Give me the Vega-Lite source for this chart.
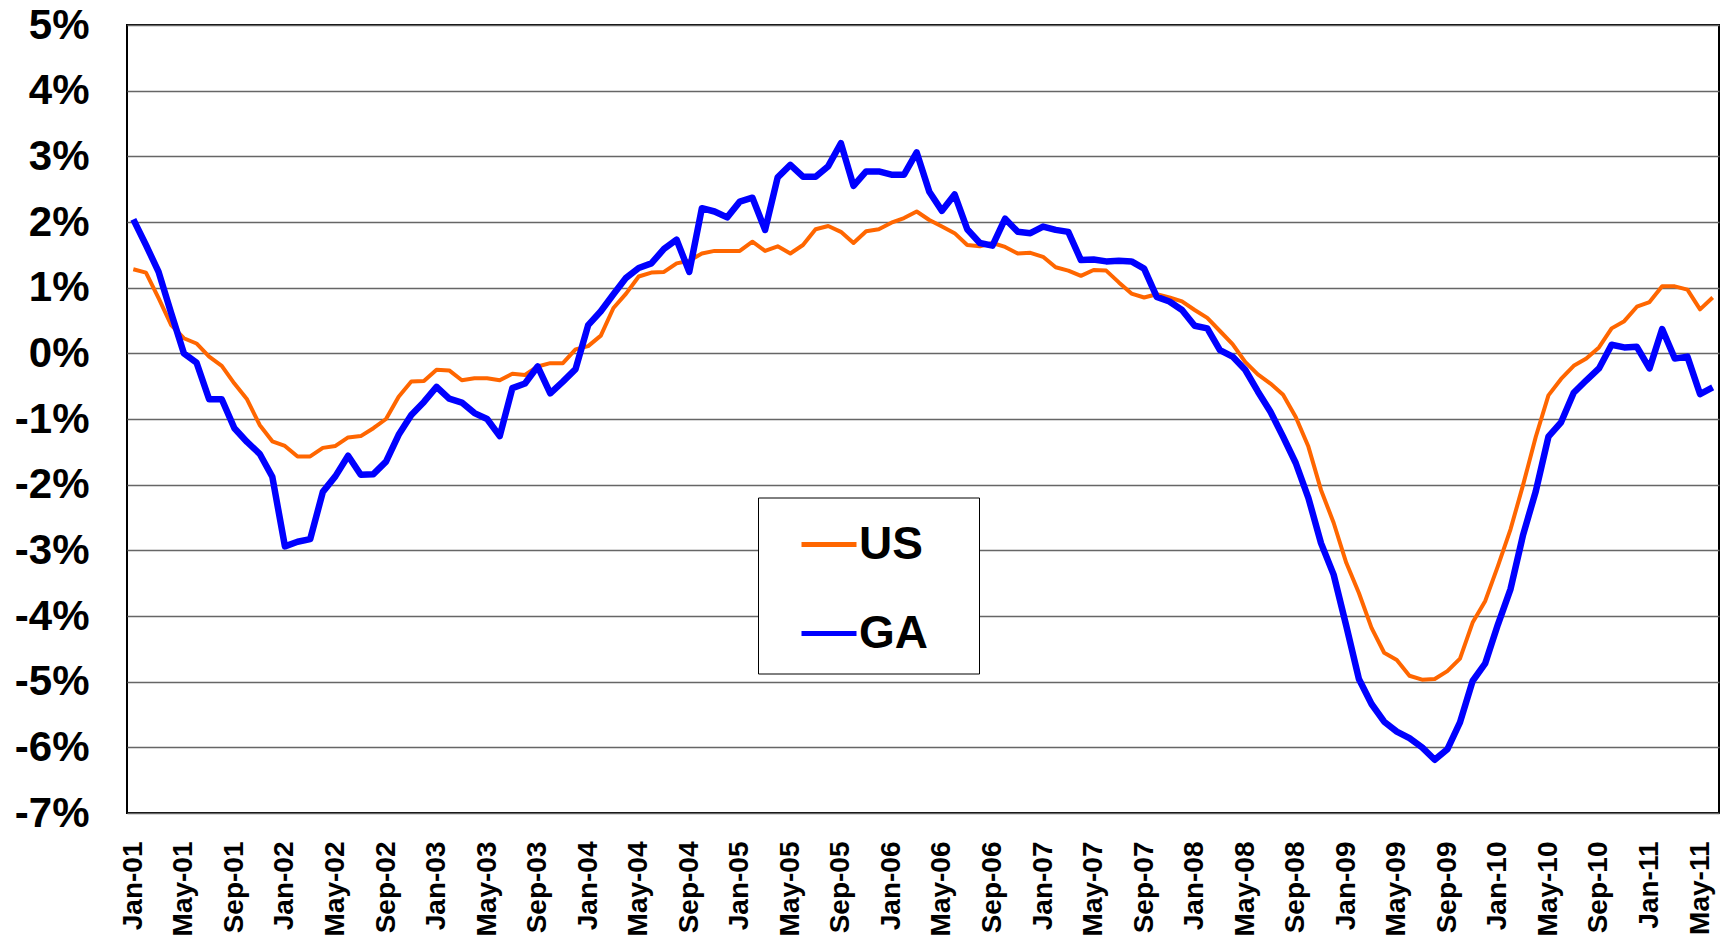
{
  "$schema": "https://vega.github.io/schema/vega-lite/v6.json",
  "width": 1592,
  "height": 788,
  "autosize": {"type": "none"},
  "padding": {"left": 127, "top": 25, "right": 8, "bottom": 130},
  "background": "white",
  "config": {
    "view": {"stroke": "black", "strokeWidth": 2},
    "font": "Liberation Sans"
  },
  "data": {
    "values": [
      {"m": "Jan-01", "US": 1.28, "GA": 2.04},
      {"m": "Feb-01", "US": 1.23, "GA": 1.65},
      {"m": "Mar-01", "US": 0.84, "GA": 1.24},
      {"m": "Apr-01", "US": 0.43, "GA": 0.61},
      {"m": "May-01", "US": 0.23, "GA": 0.0},
      {"m": "Jun-01", "US": 0.15, "GA": -0.14},
      {"m": "Jul-01", "US": -0.05, "GA": -0.7},
      {"m": "Aug-01", "US": -0.19, "GA": -0.7},
      {"m": "Sep-01", "US": -0.46, "GA": -1.14},
      {"m": "Oct-01", "US": -0.7, "GA": -1.35},
      {"m": "Nov-01", "US": -1.09, "GA": -1.53},
      {"m": "Dec-01", "US": -1.34, "GA": -1.88},
      {"m": "Jan-02", "US": -1.41, "GA": -2.94},
      {"m": "Feb-02", "US": -1.57, "GA": -2.87},
      {"m": "Mar-02", "US": -1.57, "GA": -2.83},
      {"m": "Apr-02", "US": -1.44, "GA": -2.11},
      {"m": "May-02", "US": -1.41, "GA": -1.87},
      {"m": "Jun-02", "US": -1.28, "GA": -1.56},
      {"m": "Jul-02", "US": -1.26, "GA": -1.85},
      {"m": "Aug-02", "US": -1.14, "GA": -1.84},
      {"m": "Sep-02", "US": -1.0, "GA": -1.65},
      {"m": "Oct-02", "US": -0.66, "GA": -1.24},
      {"m": "Nov-02", "US": -0.43, "GA": -0.94},
      {"m": "Dec-02", "US": -0.42, "GA": -0.74},
      {"m": "Jan-03", "US": -0.25, "GA": -0.51},
      {"m": "Feb-03", "US": -0.26, "GA": -0.69},
      {"m": "Mar-03", "US": -0.41, "GA": -0.75},
      {"m": "Apr-03", "US": -0.38, "GA": -0.91},
      {"m": "May-03", "US": -0.38, "GA": -1.0},
      {"m": "Jun-03", "US": -0.41, "GA": -1.26},
      {"m": "Jul-03", "US": -0.31, "GA": -0.53},
      {"m": "Aug-03", "US": -0.33, "GA": -0.46},
      {"m": "Sep-03", "US": -0.2, "GA": -0.2},
      {"m": "Oct-03", "US": -0.15, "GA": -0.61},
      {"m": "Nov-03", "US": -0.15, "GA": -0.43},
      {"m": "Dec-03", "US": 0.06, "GA": -0.24},
      {"m": "Jan-04", "US": 0.11, "GA": 0.43},
      {"m": "Feb-04", "US": 0.27, "GA": 0.64},
      {"m": "Mar-04", "US": 0.69, "GA": 0.9},
      {"m": "Apr-04", "US": 0.91, "GA": 1.15},
      {"m": "May-04", "US": 1.17, "GA": 1.3},
      {"m": "Jun-04", "US": 1.23, "GA": 1.37},
      {"m": "Jul-04", "US": 1.24, "GA": 1.59},
      {"m": "Aug-04", "US": 1.37, "GA": 1.73},
      {"m": "Sep-04", "US": 1.41, "GA": 1.24},
      {"m": "Oct-04", "US": 1.52, "GA": 2.21},
      {"m": "Nov-04", "US": 1.56, "GA": 2.16},
      {"m": "Dec-04", "US": 1.56, "GA": 2.07},
      {"m": "Jan-05", "US": 1.56, "GA": 2.31},
      {"m": "Feb-05", "US": 1.7, "GA": 2.37},
      {"m": "Mar-05", "US": 1.56, "GA": 1.88},
      {"m": "Apr-05", "US": 1.63, "GA": 2.68},
      {"m": "May-05", "US": 1.52, "GA": 2.87},
      {"m": "Jun-05", "US": 1.65, "GA": 2.69},
      {"m": "Jul-05", "US": 1.89, "GA": 2.69},
      {"m": "Aug-05", "US": 1.94, "GA": 2.85},
      {"m": "Sep-05", "US": 1.85, "GA": 3.2},
      {"m": "Oct-05", "US": 1.68, "GA": 2.55},
      {"m": "Nov-05", "US": 1.86, "GA": 2.77},
      {"m": "Dec-05", "US": 1.89, "GA": 2.77},
      {"m": "Jan-06", "US": 1.99, "GA": 2.72},
      {"m": "Feb-06", "US": 2.06, "GA": 2.72},
      {"m": "Mar-06", "US": 2.16, "GA": 3.06},
      {"m": "Apr-06", "US": 2.03, "GA": 2.46},
      {"m": "May-06", "US": 1.93, "GA": 2.17},
      {"m": "Jun-06", "US": 1.83, "GA": 2.42},
      {"m": "Jul-06", "US": 1.65, "GA": 1.89},
      {"m": "Aug-06", "US": 1.63, "GA": 1.68},
      {"m": "Sep-06", "US": 1.68, "GA": 1.64},
      {"m": "Oct-06", "US": 1.62, "GA": 2.05},
      {"m": "Nov-06", "US": 1.52, "GA": 1.85},
      {"m": "Dec-06", "US": 1.53, "GA": 1.83},
      {"m": "Jan-07", "US": 1.47, "GA": 1.93},
      {"m": "Feb-07", "US": 1.31, "GA": 1.88},
      {"m": "Mar-07", "US": 1.26, "GA": 1.85},
      {"m": "Apr-07", "US": 1.18, "GA": 1.42},
      {"m": "May-07", "US": 1.27, "GA": 1.43},
      {"m": "Jun-07", "US": 1.26, "GA": 1.4},
      {"m": "Jul-07", "US": 1.08, "GA": 1.41},
      {"m": "Aug-07", "US": 0.91, "GA": 1.4},
      {"m": "Sep-07", "US": 0.85, "GA": 1.29},
      {"m": "Oct-07", "US": 0.9, "GA": 0.86},
      {"m": "Nov-07", "US": 0.85, "GA": 0.79},
      {"m": "Dec-07", "US": 0.79, "GA": 0.66},
      {"m": "Jan-08", "US": 0.66, "GA": 0.42},
      {"m": "Feb-08", "US": 0.54, "GA": 0.38},
      {"m": "Mar-08", "US": 0.34, "GA": 0.05},
      {"m": "Apr-08", "US": 0.14, "GA": -0.05},
      {"m": "May-08", "US": -0.13, "GA": -0.25},
      {"m": "Jun-08", "US": -0.32, "GA": -0.58},
      {"m": "Jul-08", "US": -0.46, "GA": -0.89},
      {"m": "Aug-08", "US": -0.63, "GA": -1.27},
      {"m": "Sep-08", "US": -0.97, "GA": -1.67},
      {"m": "Oct-08", "US": -1.42, "GA": -2.2},
      {"m": "Nov-08", "US": -2.08, "GA": -2.89},
      {"m": "Dec-08", "US": -2.58, "GA": -3.37},
      {"m": "Jan-09", "US": -3.19, "GA": -4.15},
      {"m": "Feb-09", "US": -3.65, "GA": -4.96},
      {"m": "Mar-09", "US": -4.18, "GA": -5.34},
      {"m": "Apr-09", "US": -4.56, "GA": -5.61},
      {"m": "May-09", "US": -4.67, "GA": -5.76},
      {"m": "Jun-09", "US": -4.91, "GA": -5.86},
      {"m": "Jul-09", "US": -4.97, "GA": -6.0},
      {"m": "Aug-09", "US": -4.96, "GA": -6.19},
      {"m": "Sep-09", "US": -4.84, "GA": -6.03},
      {"m": "Oct-09", "US": -4.65, "GA": -5.62},
      {"m": "Nov-09", "US": -4.1, "GA": -4.99},
      {"m": "Dec-09", "US": -3.77, "GA": -4.72},
      {"m": "Jan-10", "US": -3.24, "GA": -4.13},
      {"m": "Feb-10", "US": -2.68, "GA": -3.59},
      {"m": "Mar-10", "US": -2.0, "GA": -2.76},
      {"m": "Apr-10", "US": -1.27, "GA": -2.1},
      {"m": "May-10", "US": -0.64, "GA": -1.27},
      {"m": "Jun-10", "US": -0.39, "GA": -1.05},
      {"m": "Jul-10", "US": -0.19, "GA": -0.6},
      {"m": "Aug-10", "US": -0.08, "GA": -0.41},
      {"m": "Sep-10", "US": 0.09, "GA": -0.23},
      {"m": "Oct-10", "US": 0.38, "GA": 0.13},
      {"m": "Nov-10", "US": 0.49, "GA": 0.09},
      {"m": "Dec-10", "US": 0.71, "GA": 0.1},
      {"m": "Jan-11", "US": 0.78, "GA": -0.23},
      {"m": "Feb-11", "US": 1.02, "GA": 0.37},
      {"m": "Mar-11", "US": 1.02, "GA": -0.08},
      {"m": "Apr-11", "US": 0.97, "GA": -0.05},
      {"m": "May-11", "US": 0.67, "GA": -0.62},
      {"m": "Jun-11", "US": 0.85, "GA": -0.52}
    ]
  },
  "encoding": {
    "x": {
      "field": "m",
      "type": "ordinal",
      "sort": null,
      "scale": {"type": "point", "padding": 0.5},
      "axis": {
        "title": null,
        "values": ["Jan-01","May-01","Sep-01","Jan-02","May-02","Sep-02","Jan-03","May-03","Sep-03","Jan-04","May-04","Sep-04","Jan-05","May-05","Sep-05","Jan-06","May-06","Sep-06","Jan-07","May-07","Sep-07","Jan-08","May-08","Sep-08","Jan-09","May-09","Sep-09","Jan-10","May-10","Sep-10","Jan-11","May-11"],
        "labelAngle": -90,
        "labelFontSize": 28,
        "labelFontWeight": "bold",
        "labelFont": "Liberation Sans",
        "labelColor": "black",
        "labelPadding": 28,
        "labelOverlap": false,
        "ticks": false,
        "domain": false,
        "grid": false
      }
    }
  },
  "layer": [
    {
      "mark": {"type": "line", "strokeWidth": 4, "strokeJoin": "round"},
      "encoding": {
        "y": {
          "field": "US",
          "type": "quantitative",
          "scale": {"domain": [-7, 5], "nice": false, "zero": false},
          "axis": {
            "title": null,
            "values": [-7, -6, -5, -4, -3, -2, -1, 0, 1, 2, 3, 4, 5],
            "labelExpr": "datum.value + '%'",
            "labelFontSize": 42,
            "labelFontWeight": "bold",
            "labelFont": "Liberation Sans",
            "labelColor": "black",
            "labelPadding": 38,
            "labelFlush": false,
            "labelBound": false,
            "labelOverlap": false,
            "ticks": false,
            "domain": false,
            "grid": true,
            "gridColor": "#666666",
            "gridWidth": 1.3
          }
        },
        "color": {
          "datum": "US",
          "scale": {"domain": ["US", "GA"], "range": ["#FF6600", "#0000FF"]},
          "legend": {
            "orient": "none",
            "legendX": 631,
            "legendY": 472.5,
            "title": null,
            "symbolType": "stroke",
            "symbolSize": 3025,
            "symbolStrokeWidth": 5,
            "symbolOffset": 24,
            "labelFontSize": 46,
            "labelFontWeight": "bold",
            "labelFont": "Liberation Sans",
            "labelColor": "black",
            "labelOffset": 0,
            "labelExpr": "datum.label + '\u2800'",
            "padding": 17,
            "rowPadding": 36,
            "strokeColor": "black",
            "fillColor": "white"
          }
        }
      }
    },
    {
      "mark": {"type": "line", "strokeWidth": 6.5, "strokeJoin": "round"},
      "encoding": {
        "y": {"field": "GA", "type": "quantitative"},
        "color": {"datum": "GA"}
      }
    }
  ]
}
